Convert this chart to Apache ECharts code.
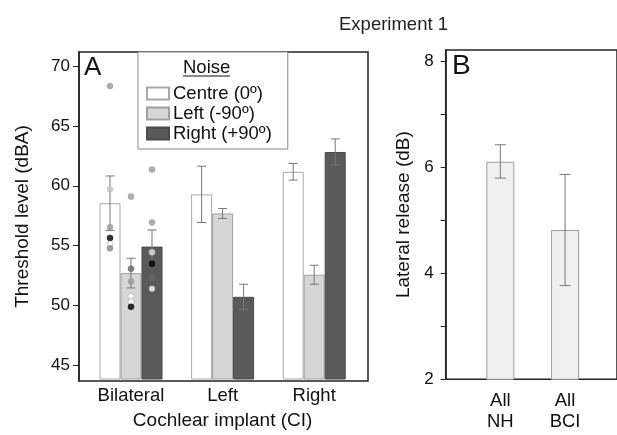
<!DOCTYPE html>
<html><head><meta charset="utf-8">
<script src="https://cdn.jsdelivr.net/npm/echarts@6/dist/echarts.min.js"></script>
<style>html,body{margin:0;padding:0;background:#fff}#c{width:617px;height:435px}</style>
</head><body><div id="c"></div>
<script>
// ---- data ----
const groups = ['Bilateral', 'Left', 'Right'];
const seriesNames = ['Centre (0º)', 'Left (-90º)', 'Right (+90º)'];
const centreVals = [58.46, 59.21, 61.11];
const centreErr = [2.3, 2.37, 0.7];
const leftVals = [52.58, 57.6, 52.44];
const leftErr = [1.25, 0.42, 0.8];
const rightVals = [54.81, 50.58, 62.78];
const rightErr = [1.4, 1.06, 1.1];
// individual subjects (bilateral group only)
const dotsCentre = [68.33, 59.63, 56.43, 55.54, 55.03, 54.67];
const dotsLeft = [59.02, 52.94, 51.88, 50.63, 50.16, 49.74];
const dotsRight = [61.3, 56.85, 54.34, 53.36, 52.16, 51.27];
const yTicksA = [45, 50, 55, 60, 65, 70];

const bCats = ['All\nNH', 'All\nBCI'];
const release = [6.11, 4.82];
const releaseLow = [5.80, 3.77];
const releaseHigh = [6.43, 5.87];
const yTicksB = [2, 3, 4, 5, 6, 7, 8];
const yLabelsB = [2, 4, 6, 8];

// ---- styles ----
const shadeCentre = ['#9a9a9a', '#c4c4c4', '#9a9a9a', '#000000', '#ffffff', '#8a8a8a'];
const shadeLeft = ['#9a9a9a', '#666666', '#9a9a9a', '#ffffff', '#ffffff', '#000000'];
const shadeRight = ['#9a9a9a', '#9a9a9a', '#dddddd', '#000000', '#666666', '#ffffff'];
const barFill = ['#ffffff', '#d6d6d6', '#5a5a5a'];
const barBorder = ['#a8a8a8', '#a0a0a0', '#4a4a4a'];
const FONT = 'Liberation Sans, Arial, sans-serif';
const BW = 21;
const offsets = [-BW, 0, BW];

const chart = echarts.init(document.getElementById('c'));

function errSeries(vals, errs, idx, xi, yi, cap, color) {
  return {
    type: 'custom', xAxisIndex: xi, yAxisIndex: yi, z: 5, silent: true,
    data: vals.map((v, i) => [i, v - errs[i], v + errs[i]]),
    renderItem: function (params, api) {
      const lo = api.coord([api.value(0), api.value(1)]);
      const hi = api.coord([api.value(0), api.value(2)]);
      const x = lo[0] + offsets[idx];
      const st = { stroke: color, lineWidth: 1 };
      return { type: 'group', children: [
        { type: 'line', shape: { x1: x, y1: lo[1], x2: x, y2: hi[1] }, style: st },
        { type: 'line', shape: { x1: x - cap, y1: lo[1], x2: x + cap, y2: lo[1] }, style: st },
        { type: 'line', shape: { x1: x - cap, y1: hi[1], x2: x + cap, y2: hi[1] }, style: st }
      ]};
    }
  };
}
function dotSeries(vals, shades, idx) {
  return {
    type: 'scatter', xAxisIndex: 1, yAxisIndex: 1, z: 6, silent: true,
    symbol: 'circle', symbolSize: 6, symbolOffset: [offsets[idx], 0],
    data: vals.map((v, i) => ({ value: [groups[0], v],
      itemStyle: { color: shades[i], borderColor: shades[i] === '#ffffff' ? '#999' : shades[i], borderWidth: 0.6 } }))
  };
}

const barVals = [centreVals, leftVals, rightVals];
const errVals = [centreErr, leftErr, rightErr];

const option = {
  backgroundColor: '#fff',
  animation: false,
  textStyle: { fontFamily: FONT },
  title: [
    { text: 'Experiment 1', left: 334, top: 10, textStyle: { fontSize: 18.5, fontWeight: 'normal', color: '#222', fontFamily: FONT } },
    { text: 'A', left: 84, top: 55, padding: 0, textStyle: { fontSize: 26, fontWeight: 'normal', color: '#111', fontFamily: FONT } },
    { text: 'B', left: 452, top: 52, padding: 0, textStyle: { fontSize: 28, fontWeight: 'normal', color: '#111', fontFamily: FONT } }
  ],
  legend: {
    data: seriesNames, orient: 'vertical', left: 138, top: 52,
    padding: [32, 16, 6, 8], itemGap: 1, itemWidth: 22, itemHeight: 12,
    borderColor: '#888', borderWidth: 1, backgroundColor: '#fff', icon: 'rect',
    textStyle: { fontSize: 18.5, color: '#111', fontFamily: FONT, padding: [0, 0, 0, -1] }, z: 10
  },
  graphic: [
    { type: 'text', left: 183, top: 58, z: 20, style: { text: 'Noise', fontSize: 18.5, fontFamily: FONT, fill: '#111' } },
    { type: 'line', z: 20, shape: { x1: 183, y1: 76, x2: 230, y2: 76 }, style: { stroke: '#111', lineWidth: 1 } }
  ],
  grid: [
    { left: 79, top: 52, width: 289, height: 329, show: true, borderColor: '#222', borderWidth: 1.5, backgroundColor: 'transparent' },
    { left: 85.2, top: 52, width: 274.8, height: 329 },
    { left: 445.7, top: 50, width: 250, height: 329.3, show: true, borderColor: '#222', borderWidth: 1.5, backgroundColor: 'transparent' },
    { left: 468, top: 50, width: 129.4, height: 329.3 }
  ],
  xAxis: [
    { gridIndex: 0, type: 'value', min: 0, max: 1, show: false },
    { gridIndex: 1, type: 'category', data: groups,
      axisLine: { show: false }, axisTick: { show: false },
      axisLabel: { fontSize: 18.5, color: '#111', margin: 7, fontFamily: FONT },
      name: 'Cochlear implant (CI)', nameLocation: 'middle', nameGap: 32,
      nameTextStyle: { fontSize: 19, color: '#111', fontFamily: FONT } },
    { gridIndex: 2, type: 'value', min: 0, max: 1, show: false },
    { gridIndex: 3, type: 'category', data: bCats,
      axisLine: { show: false }, axisTick: { show: false },
      axisLabel: { fontSize: 18.5, color: '#111', margin: 11, lineHeight: 21, fontFamily: FONT } }
  ],
  yAxis: [
    { gridIndex: 0, type: 'value', min: 43.66, max: 71.2,
      axisLine: { show: true, lineStyle: { color: '#222', width: 1.5 } },
      axisTick: { show: true, inside: false, length: 6, customValues: yTicksA, lineStyle: { color: '#222' } },
      axisLabel: { customValues: yTicksA, fontSize: 17, color: '#111', margin: 9, fontFamily: FONT },
      splitLine: { show: false },
      name: 'Threshold level (dBA)', nameLocation: 'middle', nameGap: 47, nameRotate: 90,
      nameTextStyle: { fontSize: 19, color: '#111', fontFamily: FONT } },
    { gridIndex: 1, type: 'value', min: 43.66, max: 71.2, show: false, splitLine: { show: false } },
    { gridIndex: 2, type: 'value', min: 2, max: 8.22,
      axisLine: { show: true, lineStyle: { color: '#222', width: 1.5 } },
      axisTick: { show: true, inside: false, length: 5, customValues: yTicksB, lineStyle: { color: '#222' } },
      axisLabel: { customValues: yLabelsB, fontSize: 17, color: '#111', margin: 12, fontFamily: FONT },
      splitLine: { show: false },
      name: 'Lateral release (dB)', nameLocation: 'middle', nameGap: 32, nameRotate: 90,
      nameTextStyle: { fontSize: 19, color: '#111', fontFamily: FONT } },
    { gridIndex: 3, type: 'value', min: 2, max: 8.22, show: false, splitLine: { show: false } }
  ],
  series: [
    ...seriesNames.map((n, k) => ({
      name: n, type: 'bar', xAxisIndex: 1, yAxisIndex: 1, barWidth: BW, barGap: '0%',
      data: barVals[k],
      itemStyle: { color: barFill[k], borderColor: barBorder[k], borderWidth: 1 }
    })),
    ...seriesNames.map((n, k) => errSeries(barVals[k], errVals[k], k, 1, 1, 4.5, '#777')),
    dotSeries(dotsCentre, shadeCentre, 0),
    dotSeries(dotsLeft, shadeLeft, 1),
    dotSeries(dotsRight, shadeRight, 2),
    { type: 'bar', name: 'release', xAxisIndex: 3, yAxisIndex: 3, barWidth: 28,
      data: release, itemStyle: { color: '#f0f0f0', borderColor: '#9c9c9c', borderWidth: 1 } },
    { type: 'custom', xAxisIndex: 3, yAxisIndex: 3, z: 5, silent: true,
      data: release.map((v, i) => [i, releaseLow[i], releaseHigh[i]]),
      renderItem: function (params, api) {
        const lo = api.coord([api.value(0), api.value(1)]);
        const hi = api.coord([api.value(0), api.value(2)]);
        const x = lo[0], cap = 5.5;
        const st = { stroke: '#777', lineWidth: 1 };
        return { type: 'group', children: [
          { type: 'line', shape: { x1: x, y1: lo[1], x2: x, y2: hi[1] }, style: st },
          { type: 'line', shape: { x1: x - cap, y1: lo[1], x2: x + cap, y2: lo[1] }, style: st },
          { type: 'line', shape: { x1: x - cap, y1: hi[1], x2: x + cap, y2: hi[1] }, style: st }
        ]};
      } }
  ]
};
chart.setOption(option);
</script></body></html>
